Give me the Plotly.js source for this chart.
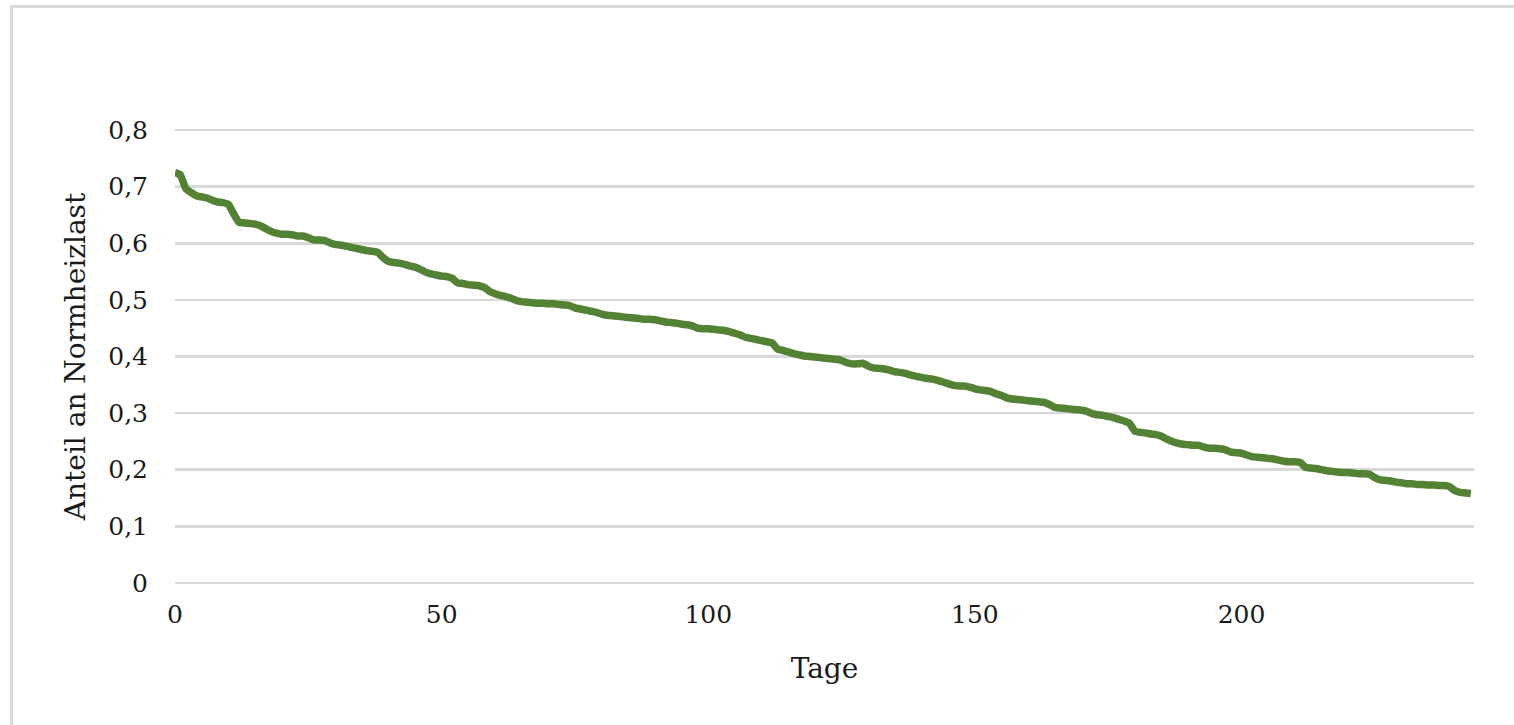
<!DOCTYPE html>
<html>
<head>
<meta charset="utf-8">
<script src="https://cdn.plot.ly/plotly-3.0.1.min.js"></script>
<style>
  html, body { margin: 0; padding: 0; background: #ffffff; }
  #wrap { position: relative; width: 1514px; height: 725px; overflow: hidden; }
  #chart { position: absolute; left: 0; top: 0; width: 1514px; height: 725px; }
  #frame { position: absolute; left: 10px; top: 5px; width: 1600px; height: 800px;
           border-left: 3px solid #d9d9d9; border-top: 3px solid #d9d9d9; pointer-events: none; }
</style>
</head>
<body>
<div id="wrap">
  <div id="chart"></div>
  <div id="frame"></div>
</div>
<script>
const xTitle = "Tage";
const yTitle = "Anteil an Normheizlast";
const xTickVals = [0, 50, 100, 150, 200];
const yTickVals = [0, 0.1, 0.2, 0.3, 0.4, 0.5, 0.6, 0.7, 0.8];
const yTickText = ["0", "0,1", "0,2", "0,3", "0,4", "0,5", "0,6", "0,7", "0,8"];

// Anteil an Normheizlast, one value per day (day 0 .. 243), sorted descending
const anteil = [
  0.725, 0.721, 0.697, 0.690, 0.684, 0.682, 0.680, 0.676, 0.673, 0.672,
  0.669, 0.652, 0.637, 0.636, 0.635, 0.634, 0.631, 0.626, 0.621, 0.618,
  0.616, 0.616, 0.615, 0.613, 0.613, 0.610, 0.606, 0.606, 0.605, 0.601,
  0.598, 0.597, 0.595, 0.593, 0.591, 0.589, 0.587, 0.586, 0.584, 0.575,
  0.568, 0.566, 0.565, 0.563, 0.560, 0.558, 0.554, 0.549, 0.546, 0.544,
  0.542, 0.541, 0.538, 0.530, 0.529, 0.527, 0.526, 0.525, 0.522, 0.515,
  0.511, 0.508, 0.506, 0.503, 0.499, 0.497, 0.496, 0.495, 0.494, 0.494,
  0.493, 0.493, 0.492, 0.491, 0.490, 0.486, 0.484, 0.482, 0.480, 0.478,
  0.475, 0.473, 0.472, 0.471, 0.470, 0.469, 0.468, 0.467, 0.466, 0.466,
  0.465, 0.463, 0.461, 0.460, 0.459, 0.457, 0.456, 0.454, 0.450, 0.449,
  0.449, 0.448, 0.447, 0.446, 0.444, 0.441, 0.438, 0.434, 0.432, 0.430,
  0.428, 0.426, 0.424, 0.413, 0.411, 0.408, 0.405, 0.403, 0.401, 0.400,
  0.399, 0.398, 0.397, 0.396, 0.395, 0.393, 0.389, 0.387, 0.387, 0.388,
  0.383, 0.380, 0.379, 0.378, 0.376, 0.373, 0.372, 0.370, 0.367, 0.365,
  0.363, 0.361, 0.360, 0.358, 0.355, 0.352, 0.349, 0.348, 0.348, 0.346,
  0.343, 0.341, 0.340, 0.338, 0.334, 0.331, 0.327, 0.325, 0.324, 0.323,
  0.322, 0.321, 0.320, 0.319, 0.315, 0.310, 0.309, 0.308, 0.307, 0.306,
  0.305, 0.303, 0.299, 0.297, 0.296, 0.294, 0.292, 0.289, 0.286, 0.282,
  0.268, 0.266, 0.265, 0.263, 0.262, 0.259, 0.254, 0.250, 0.247, 0.245,
  0.244, 0.243, 0.243, 0.240, 0.238, 0.238, 0.237, 0.235, 0.231, 0.230,
  0.229, 0.226, 0.223, 0.222, 0.221, 0.220, 0.219, 0.217, 0.215, 0.214,
  0.214, 0.213, 0.204, 0.203, 0.202, 0.200, 0.198, 0.197, 0.196, 0.195,
  0.195, 0.194, 0.193, 0.193, 0.192, 0.186, 0.182, 0.181, 0.180, 0.178,
  0.177, 0.175, 0.175, 0.174, 0.174, 0.173, 0.173, 0.172, 0.172, 0.170,
  0.163, 0.160, 0.159, 0.158
];
const tage = anteil.map((_, i) => i);

const fontFamily = "DejaVu Serif, Liberation Serif, serif";

const trace = {
  x: tage,
  y: anteil,
  type: "scatter",
  mode: "lines",
  line: { color: "#548235", width: 7.5, shape: "spline", smoothing: 0.4 },
  hoverinfo: "skip"
};

const layout = {
  width: 1514,
  height: 725,
  margin: { l: 175, r: 40, t: 127, b: 139 },
  paper_bgcolor: "#ffffff",
  plot_bgcolor: "#ffffff",
  showlegend: false,
  font: { family: fontFamily, color: "#1a1a1a", size: 25 },
  xaxis: {
    range: [0, 243.6],
    tickvals: xTickVals,
    ticktext: xTickVals.map(String),
    showgrid: false,
    zeroline: false,
    showline: false,
    ticks: "",
    ticklabelstandoff: 11,
    tickfont: { family: fontFamily, size: 25, color: "#1a1a1a" },
    title: { text: xTitle, font: { family: fontFamily, size: 28, color: "#1a1a1a" }, standoff: 30 }
  },
  yaxis: {
    range: [-0.0055, 0.8055],
    tickvals: yTickVals,
    ticktext: yTickText,
    showgrid: true,
    gridcolor: "#d9d9d9",
    gridwidth: 2.5,
    zeroline: false,
    showline: false,
    ticks: "",
    ticklabelstandoff: 26,
    tickfont: { family: fontFamily, size: 25, color: "#1a1a1a" },
    title: { text: yTitle, font: { family: fontFamily, size: 28, color: "#1a1a1a" }, standoff: 14 }
  }
};

Plotly.newPlot("chart", [trace], layout, { displayModeBar: false, staticPlot: true });
</script>
</body>
</html>
